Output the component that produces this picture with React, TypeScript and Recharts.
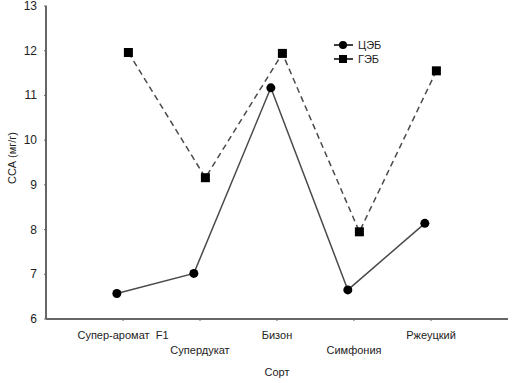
import { Legend, Line, LineChart, XAxis, YAxis } from "recharts";

const categories = ["Супер-аромат\u00a0\u00a0F1", "Супердукат", "Бизон", "Симфония", "Ржеуцкий"];
const cebValues = [6.57, 7.02, 11.17, 6.65, 8.14];
const gebValues = [11.96, 9.16, 11.94, 7.95, 11.55];
const yTicks = [6, 7, 8, 9, 10, 11, 12, 13];
const xTicks = [1, 2, 3, 4, 5];

const seriesNames = ["ЦЭБ", "ГЭБ"];

// points are nudged left / right of the category tick, like the original
const cebData = cebValues.map((v, i) => ({ x: i + 1 - 0.08, y: v }));
const gebData = gebValues.map((v, i) => ({ x: i + 1 + 0.07, y: v }));

const font = "'Liberation Sans', Arial, sans-serif";
const textColor = "#222";
const lineColor = "#4a4a4a";

const Circle = (props: any) => {
  const { cx, cy } = props;
  return <circle cx={cx} cy={cy} r={4.5} fill="#000" />;
};

const Square = (props: any) => {
  const { cx, cy } = props;
  return <rect x={cx - 4.5} y={cy - 4.5} width={9} height={9} fill="#000" />;
};

const XTick = (props: any) => {
  const { x, y, payload } = props;
  const row = payload.value % 2 === 1 ? 18 : 33;
  return (
    <g>
      <line x1={x} y1={y - 3} x2={x} y2={y} stroke="#666" strokeWidth={1} />
      <text x={x} y={y + row} textAnchor="middle" fontSize={11} fill={textColor} fontFamily={font}>
        {categories[payload.value - 1]}
      </text>
    </g>
  );
};

const YTick = (props: any) => {
  const { x, y, payload } = props;
  return (
    <g>
      <line x1={x} y1={y} x2={x + 3} y2={y} stroke="#666" strokeWidth={1} />
      <text x={x - 7} y={y + 4} textAnchor="end" fontSize={12} fill={textColor} fontFamily={font}>
        {payload.value}
      </text>
    </g>
  );
};

const LegendBox = () => (
  <div style={{ fontFamily: font, fontSize: 11, color: textColor }}>
    {seriesNames.map((name, i) => (
      <div key={name} style={{ display: "flex", alignItems: "center", height: 14 }}>
        <svg width={22} height={12}>
          <line x1={1} y1={6} x2={20} y2={6} stroke="#000" strokeWidth={1.5} />
          {i === 0 ? <circle cx={10} cy={6} r={4} fill="#000" /> : <rect x={6} y={2} width={8} height={8} fill="#000" />}
        </svg>
        <span style={{ marginLeft: 3 }}>{name}</span>
      </div>
    ))}
  </div>
);

const App: React.FC = () => {
  return (
    <div>
      <style>{"body{margin:0}"}</style>
      <LineChart width={519} height={383} margin={{ top: 6, right: 11, left: 0, bottom: 0 }}>
        <XAxis
          type="number"
          dataKey="x"
          domain={[0, 6]}
          ticks={xTicks}
          interval={0}
          height={64}
          tickSize={0}
          tickLine={false}
          tick={<XTick />}
          axisLine={{ stroke: "#666", strokeWidth: 2 }}
          label={{
            content: (p: any) => {
              const { x, y, width } = p.viewBox;
              return (
                <text x={x + width / 2} y={y + 57} textAnchor="middle" fontSize={11} fill={textColor} fontFamily={font}>
                  Сорт
                </text>
              );
            },
          }}
        />
        <YAxis
          type="number"
          dataKey="y"
          domain={[6, 13]}
          ticks={yTicks}
          interval={0}
          width={46}
          tickSize={0}
          tickLine={false}
          tick={<YTick />}
          axisLine={{ stroke: "#666", strokeWidth: 2 }}
          label={{
            content: () => (
              <text
                transform="translate(16,158) rotate(-90)"
                textAnchor="middle"
                fontSize={11}
                fill={textColor}
                fontFamily={font}
              >
                ССА (мг/г)
              </text>
            ),
          }}
        />
        <Legend
          layout="vertical"
          align="center"
          verticalAlign="middle"
          content={<LegendBox />}
          wrapperStyle={{ left: 333, top: 38, width: 80 }}
        />
        <Line
          data={cebData}
          dataKey="y"
          name={seriesNames[0]}
          stroke={lineColor}
          strokeWidth={1.5}
          dot={<Circle />}
          activeDot={false}
          isAnimationActive={false}
        />
        <Line
          data={gebData}
          dataKey="y"
          name={seriesNames[1]}
          stroke={lineColor}
          strokeWidth={1.5}
          strokeDasharray="6 4"
          dot={<Square />}
          activeDot={false}
          isAnimationActive={false}
        />
      </LineChart>
    </div>
  );
};

export default App;
